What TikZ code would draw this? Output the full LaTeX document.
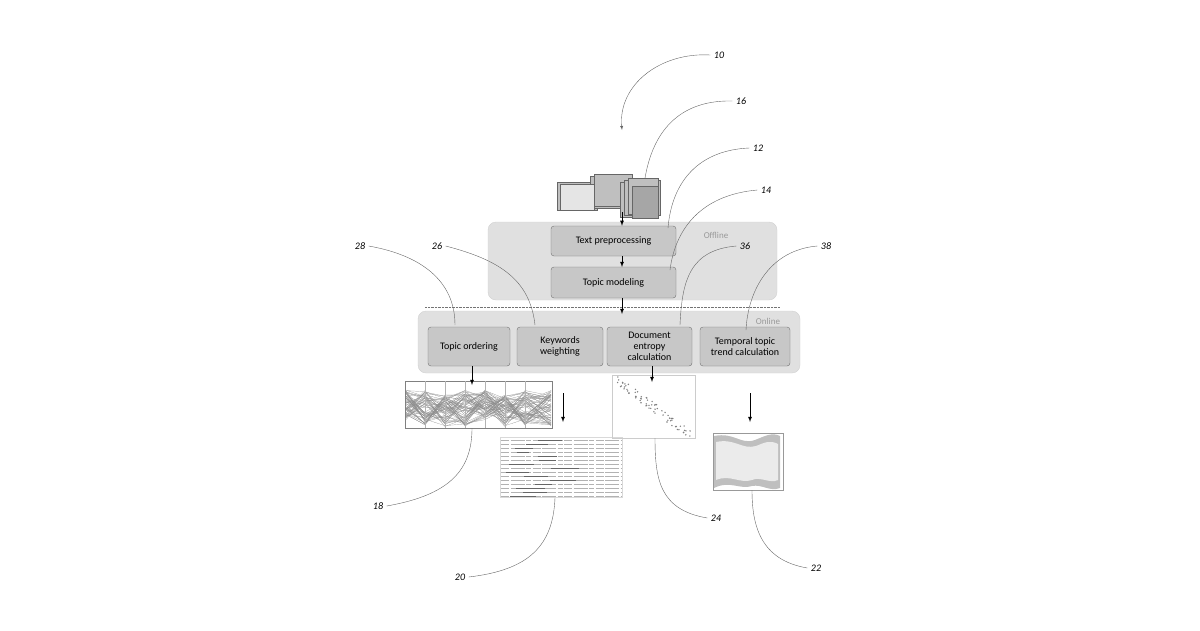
\documentclass[tikz,border=0pt]{standalone}
\usepackage{fontspec}
\setmainfont{Carlito}
\begin{document}
\begin{tikzpicture}[x=1pt,y=-1pt,
  grp/.style={rounded corners=8pt,fill=black!12,draw=black!18},
  box/.style={rounded corners=3pt,fill=black!22,draw=black!55,font=\fontsize{10}{11}\selectfont,align=center,inner sep=1pt},
  flow/.style={-latex,thick,black},
  lead/.style={draw=black!60,thin},
  lab/.style={font=\itshape\fontsize{10}{11}\selectfont}]
\useasboundingbox (0,0) rectangle (1200,630);
\pgfmathsetseed{7}
% groups
\node[grp,minimum width=289pt,minimum height=78pt] (off) at (632.5,261) {};
\node[text=black!40,font=\fontsize{9}{10}\selectfont] (offl) at (716,235) {Offline};
\draw[black!55,densely dotted] (425,307) -- (780,307);
\node[grp,minimum width=382pt,minimum height=62pt] (on) at (609,342) {};
\node[text=black!40,font=\fontsize{9}{10}\selectfont] (onl) at (768,321) {Online};
% boxes
\node[box,minimum width=125pt,minimum height=30pt] (tp) at (613.5,241) {Text preprocessing};
\node[box,minimum width=125pt,minimum height=31pt] (tm) at (613.5,282.5) {Topic modeling};
\node[box,minimum width=82pt,minimum height=39pt] (to) at (469,346.5) {Topic ordering};
\node[box,minimum width=86pt,minimum height=39pt] (kw) at (560,346.5) {Keywords\\weighting};
\node[box,minimum width=85pt,minimum height=39pt] (de) at (649.5,346.5) {Document\\entropy\\calculation};
\node[box,minimum width=90pt,minimum height=39pt] (tt) at (745,346.5) {Temporal topic\\trend calculation};
% documents icon
\foreach \x/\y/\w/\h in {557/182/40/28,590/176/38/32,594/174/38/32,620/182/36/35,624/180/36/35,628/178/30/36}{
  \draw[black!60,fill=black!25] (\x,\y) rectangle ++(\w,\h);}
\draw[black!60,fill=black!10] (560,184) rectangle ++(34,26);
\draw[black!60,fill=black!35] (632,186) rectangle ++(26,32);
\node[inner sep=0,minimum width=103pt,minimum height=48pt] (docs) at (608.5,196) {};
% images
\node[draw=black!50,inner sep=0,minimum width=147pt,minimum height=47pt] (pc) at (478.5,404.5) {};
\foreach \i in {1,...,60}{
  \pgfmathsetmacro{\a}{390+rnd*30}\pgfmathsetmacro{\b}{390+rnd*35}\pgfmathsetmacro{\c}{395+rnd*32}\pgfmathsetmacro{\d}{390+rnd*36}
  \draw[black!45,very thin] (406,\a) -- (425,\b) -- (445,\c) -- (465,\d) -- (485,\a) -- (505,\c) -- (525,\b) -- (551,\d);}
\foreach \x in {425,445,465,485,505,525}{\draw[black!30,very thin] (\x,381) -- (\x,428);}
\node[draw=black!15,inner sep=0,minimum width=122pt,minimum height=60pt] (txt) at (561,467) {};
\foreach \y in {440,444,...,496}{
  \pgfmathsetmacro{\s}{503+rnd*50}\pgfmathsetmacro{\e}{\s+10+rnd*20}
  \draw[black!30,line width=1pt,dash pattern=on 8pt off 1.5pt on 14pt off 1.5pt on 5pt off 1.5pt] (501,\y) -- (621,\y);
  \draw[black!60,line width=1pt] (\s,\y) -- (\e,\y);}
\node[draw=black!20,inner sep=0,minimum width=83pt,minimum height=63pt] (sc) at (653.5,406.5) {};
\foreach \i in {1,...,70}{
  \pgfmathsetmacro{\t}{rnd}\pgfmathsetmacro{\px}{614+\t*78}\pgfmathsetmacro{\py}{378+\t*58+(rnd-0.5)*10}
  \fill[black!50] (\px,\py) circle (0.8pt);}
\node[draw=black!40,inner sep=0,minimum width=70pt,minimum height=57pt] (sg) at (748,461.5) {};
\fill[black!25] (714,436) .. controls (735,432) and (740,445) .. (755,440) .. controls (765,436) and (772,432) .. (780,436) -- (780,488) .. controls (770,492) and (762,484) .. (752,486) .. controls (740,490) and (730,480) .. (714,488) -- cycle;
\fill[black!8] (716,442) .. controls (735,438) and (742,450) .. (756,446) .. controls (766,442) and (770,440) .. (778,444) -- (778,480) .. controls (770,484) and (760,476) .. (752,480) .. controls (740,484) and (730,474) .. (716,480) -- cycle;
% flow arrows
\coordinate (a1) at (622,212);
\draw[flow] (a1) -- (tp.north -| a1);
\draw[flow] (622,256) -- (622,267);
\draw[flow] (622,298) -- (622,314);
\draw[flow] (472,366) -- (472,385);
\draw[flow] (563,393) -- (563,422);
\draw[flow] (652,366) -- (652,382);
\draw[flow] (750,393) -- (750,422);
% leaders
\node[lab] (l10) at (719,55) {10};
\coordinate (p10) at (622,130);
\draw[lead,-latex] (l10.west) .. controls (660,52) and (618,85) .. (p10);
\node[lab] (l16) at (741,101) {16};
\draw[lead] (l16.west) .. controls (690,100) and (655,120) .. (645,178);
\node[lab] (l12) at (758,148) {12};
\draw[lead] (l12.west) .. controls (700,150) and (672,180) .. (668,228);
\node[lab] (l14) at (766,190) {14};
\draw[lead] (l14.west) .. controls (700,195) and (675,230) .. (670,270);
\node[lab] (l28) at (360,246) {28};
\draw[lead] (l28.east) .. controls (420,255) and (455,280) .. (455,325);
\node[lab] (l26) at (437,246) {26};
\draw[lead] (l26.east) .. controls (500,260) and (530,280) .. (535,325);
\node[lab] (l36) at (745,246) {36};
\draw[lead] (l36.west) .. controls (690,250) and (682,280) .. (680,325);
\node[lab] (l38) at (826,246) {38};
\draw[lead] (l38.west) .. controls (770,250) and (748,290) .. (746,330);
\node[lab] (l18) at (378,506) {18};
\draw[lead] (l18.east) .. controls (450,495) and (472,470) .. (472,428);
\node[lab] (l20) at (460,577) {20};
\draw[lead] (l20.east) .. controls (530,570) and (553,545) .. (555,498);
\node[lab] (l24) at (716,518) {24};
\draw[lead] (l24.west) .. controls (660,510) and (655,480) .. (655,438);
\node[lab] (l22) at (816,568) {22};
\draw[lead] (l22.west) .. controls (760,560) and (752,525) .. (752,490);
\end{tikzpicture}
\end{document}
